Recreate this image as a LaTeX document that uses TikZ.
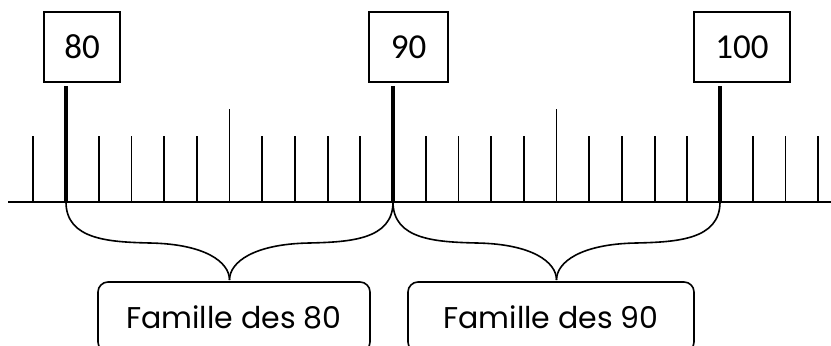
\documentclass[tikz,border=0pt]{standalone}
\usepackage{fontspec}
\newfontfamily\numfont{Carlito}
\newfontfamily\famfont{Poppins}
\usetikzlibrary{calc}

\tikzset{
  numbox/.style={draw, line width=1.2pt, minimum height=35pt, inner sep=0pt, font=\numfont\fontsize{17.5}{20}\selectfont},
  famille/.style={draw, line width=0.8pt, rounded corners=5pt, minimum width=136pt, minimum height=35pt, inner sep=0pt, font=\famfont\fontsize{15}{18}\selectfont},
  tick/.style={line width=0.9pt},
  bigtick/.style={line width=1.6pt},
  accol/.style={line width=0.8pt}
}

\begin{document}
\begin{tikzpicture}[x=0.5pt, y=-0.5pt]
      \clip (0,0) rectangle (831,345);

      % axe
      \coordinate (t80) at (66,202);
      \coordinate (t90) at (393,202);
      \coordinate (t100) at (720,202);
      \draw[tick] (8,202) -- (831,202);

      % graduations
      \foreach \n in {-1,1,2,3,4,6,7,8,9,11,12,13,14,16,17,18,19,21,22,23}
        \draw[tick] (66+32.7*\n,202) -- ++(0,-66);
      \foreach \n in {5,15}
        \draw[tick] (66+32.7*\n,202) -- ++(0,-93);
      \foreach \t in {t80,t90,t100}
        \draw[bigtick] (\t) -- ++(0,-116);

      % etiquettes
      \node[numbox, minimum width=38pt] (b80) at (82,47) {80};
      \node[numbox, minimum width=39.5pt] (b90) at (408.5,47) {90};
      \node[numbox, minimum width=48pt] (b100) at (742,47) {100};

      % familles
      \node[famille] (f80) at (234,317) {Famille des 80};
      \node[famille, minimum width=143pt] (f90) at (551,317) {Famille des 90};
      \coordinate (m80) at ($(t80)!0.5!(t90) + (0,78)$);
      \coordinate (m90) at ($(t90)!0.5!(t100) + (0,78)$);

      % accolades
      \foreach \a/\b/\m in {t80/t90/m80, t90/t100/m90} {
        \draw[accol] (\a) .. controls ($(\a)+(0,38)$) and ($(\a)+(44,40)$) .. ($(\a)+(84,41)$)
          .. controls ($(\a)+(139,42)$) and ($(\m)+(0,-18)$) .. (\m);
        \draw[accol] (\b) .. controls ($(\b)+(0,38)$) and ($(\b)+(-44,40)$) .. ($(\b)+(-84,41)$)
          .. controls ($(\b)+(-139,42)$) and ($(\m)+(0,-18)$) .. (\m);
      }
\end{tikzpicture}
\end{document}
